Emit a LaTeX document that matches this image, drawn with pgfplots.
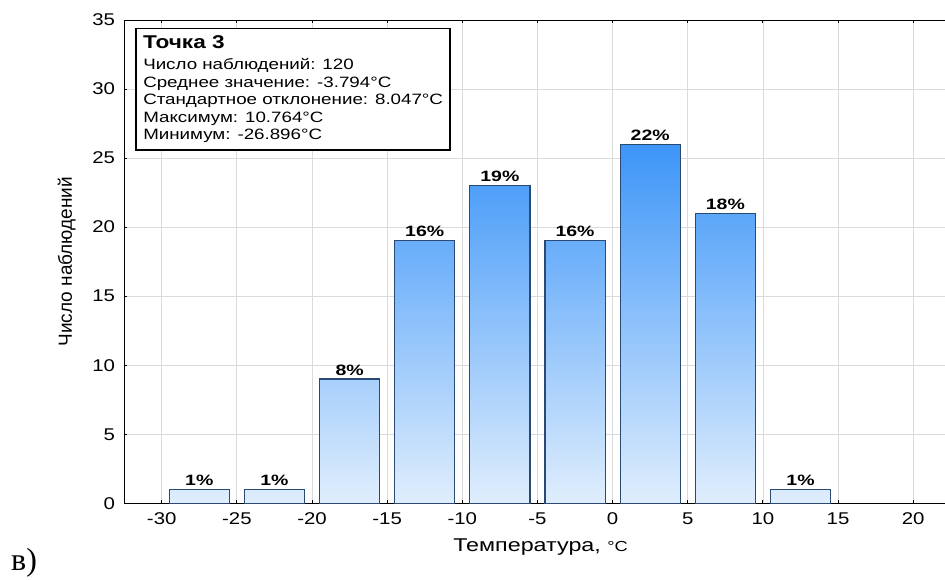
\documentclass[border=0pt]{standalone}
\usepackage{fontspec}
\setmainfont{Liberation Sans}
\newfontfamily\serifL{Liberation Serif}
\usepackage{pgfplots}
\pgfplotsset{compat=1.18}
\definecolor{barL}{RGB}{224,238,253}
\definecolor{barD}{RGB}{60,149,248}
\definecolor{barEdge}{RGB}{43,74,115}
\definecolor{gridc}{RGB}{218,218,218}
\newcommand{\tk}{\fontsize{17}{18}\selectfont}
\begin{document}
\begin{tikzpicture}[x=1pt,y=1pt]
\useasboundingbox (0,0) rectangle (945,579);
\begin{axis}[
  at={(124pt,75.7pt)}, anchor=south west,
  scale only axis, width=826.8pt, height=483.3pt,
  xmin=-32.51, xmax=22.5, ymin=0, ymax=35,
  xtick={-30,-25,...,20}, ytick={0,5,...,35},
  grid=major, major grid style={gridc, line width=0.8pt},
  axis line style={black, line width=1pt},
  major tick length=3pt,
  tick style={black, line width=1pt},
  ytick pos=left,
  /pgf/number format/assume math mode=true,
  ticklabel style={font=\tk, xscale=1.2},
  xticklabel style={yshift=-6pt},
  yticklabel style={xshift=-4pt},
  every node near coord/.append style={font=\bfseries\fontsize{15}{16}\selectfont, xscale=1.3, anchor=base, inner sep=0pt, yshift=4pt, black},
]
\addplot[ybar, bar width=4, bar shift=0pt, draw=barEdge, line width=1.1pt, top color=barD!3.8!barL, bottom color=barL, nodes near coords={1\%}] coordinates {(-27.5,1)};
\addplot[ybar, bar width=4, bar shift=0pt, draw=barEdge, line width=1.1pt, top color=barD!3.8!barL, bottom color=barL, nodes near coords={1\%}] coordinates {(-22.5,1)};
\addplot[ybar, bar width=4, bar shift=0pt, draw=barEdge, line width=1.1pt, top color=barD!34.6!barL, bottom color=barL, nodes near coords={8\%}] coordinates {(-17.5,9)};
\addplot[ybar, bar width=4, bar shift=0pt, draw=barEdge, line width=1.1pt, top color=barD!73.1!barL, bottom color=barL, nodes near coords={16\%}] coordinates {(-12.5,19)};
\addplot[ybar, bar width=4, bar shift=0pt, draw=barEdge, line width=1.1pt, top color=barD!88.5!barL, bottom color=barL, nodes near coords={19\%}] coordinates {(-7.5,23)};
\addplot[ybar, bar width=4, bar shift=0pt, draw=barEdge, line width=1.1pt, top color=barD!73.1!barL, bottom color=barL, nodes near coords={16\%}] coordinates {(-2.5,19)};
\addplot[ybar, bar width=4, bar shift=0pt, draw=barEdge, line width=1.1pt, top color=barD!100!barL, bottom color=barL, nodes near coords={22\%}] coordinates {(2.5,26)};
\addplot[ybar, bar width=4, bar shift=0pt, draw=barEdge, line width=1.1pt, top color=barD!80.8!barL, bottom color=barL, nodes near coords={18\%}] coordinates {(7.5,21)};
\addplot[ybar, bar width=4, bar shift=0pt, draw=barEdge, line width=1.1pt, top color=barD!3.8!barL, bottom color=barL, nodes near coords={1\%}] coordinates {(12.5,1)};
\end{axis}
% statistics box
\draw[black, line width=1.3pt, fill=white] (136,429) rectangle (450,550.7);
\node[anchor=base west, inner sep=0pt, xscale=1.22, font=\bfseries\fontsize{18.5}{20}\selectfont] at (143,530.7) {Точка 3};
\node[anchor=base west, inner sep=0pt, xscale=1.25, font=\fontsize{15}{16}\selectfont] at (143,509) {Число наблюдений: 120};
\node[anchor=base west, inner sep=0pt, xscale=1.25, font=\fontsize{15}{16}\selectfont] at (143,491.7) {Среднее значение: -3.794°C};
\node[anchor=base west, inner sep=0pt, xscale=1.25, font=\fontsize{15}{16}\selectfont] at (143,474.7) {Стандартное отклонение: 8.047°C};
\node[anchor=base west, inner sep=0pt, xscale=1.25, font=\fontsize{15}{16}\selectfont] at (143,456.7) {Максимум: 10.764°C};
\node[anchor=base west, inner sep=0pt, xscale=1.25, font=\fontsize{15}{16}\selectfont] at (143,439.7) {Минимум: -26.896°C};
% axis labels
\node[anchor=base west, inner sep=0pt, xscale=1.26, font=\fontsize{18.5}{20}\selectfont] at (453,28) {Температура, {\fontsize{14.5}{16}\selectfont°C}};
\node[rotate=90, inner sep=0pt, font=\fontsize{19}{21}\selectfont] at (66.7,317.3) {Число наблюдений};
\node[anchor=base west, inner sep=0pt, font=\serifL\fontsize{32}{34}\selectfont] at (11,8.3) {в)};
\end{tikzpicture}
\end{document}
